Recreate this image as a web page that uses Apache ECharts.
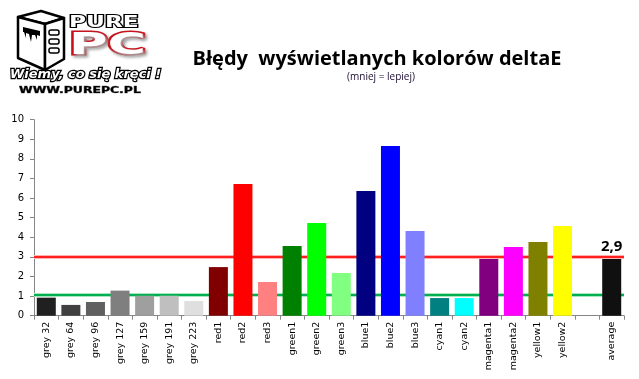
<!DOCTYPE html>
<html><head><meta charset="utf-8">
<script src="https://cdn.jsdelivr.net/npm/echarts@6/dist/echarts.min.js"></script>
<style>html,body{margin:0;padding:0;background:#fff}#c{width:639px;height:379px}</style>
</head><body><div id="c"></div>
<script>
const categories = ['grey 32','grey 64','grey 96','grey 127','grey 159','grey 191','grey 223','red1','red2','red3','green1','green2','green3','blue1','blue2','blue3','cyan1','cyan2','magenta1','magenta2','yellow1','yellow2','','average'];
const values = [0.92,0.55,0.70,1.28,1.02,1.02,0.75,2.48,6.72,1.72,3.56,4.73,2.18,6.36,8.66,4.32,0.90,0.90,2.89,3.50,3.76,4.58,null,2.89];
const barColors = ['#202020','#404040','#606060','#7f7f7f','#9f9f9f','#bfbfbf','#dfdfdf','#800000','#ff0000','#ff8080','#008000','#00ff00','#80ff80','#000080','#0000ff','#8080ff','#008080','#00ffff','#800080','#ff00ff','#808000','#ffff00','#ffffff','#101010'];
const yTicks = [0,1,2,3,4,5,6,7,8,9,10];
const upperLimit = 3;
const lowerLimit = 1.05;
const averageLabel = '2,9';

const chart = echarts.init(document.getElementById('c'), null, {renderer:'canvas'});
const F = 'DejaVu Sans';
const data = values.map((v,i)=>{
  const d = {value:v, itemStyle:{color:barColors[i]}};
  if (categories[i]==='average') d.label = {show:true, position:'top', distance:5, formatter:averageLabel, fontSize:15, fontWeight:'bold', color:'#000', fontFamily:'Open Sans'};
  return d;
});
const limitLine = (v, halo, core) => [
  {type:'line', xAxisIndex:1, data:[[0,v],[1,v]], symbol:'none', silent:true, z:1, zlevel:0, lineStyle:{color:halo, width:4}},
  {type:'line', xAxisIndex:1, data:[[0,v],[1,v]], symbol:'none', silent:true, z:2, zlevel:0, lineStyle:{color:core, width:2}}
];
chart.setOption({
  animation:false,
  backgroundColor:'#fff',
  grid:{left:34, right:15, top:119.7, bottom:63.3},
  xAxis:[{type:'category', data:categories,
    axisLine:{lineStyle:{color:'#868686', width:1}},
    axisTick:{show:true, length:4, lineStyle:{color:'#868686'}},
    axisLabel:{rotate:90, interval:0, fontFamily:F, fontSize:9.5, color:'#000', margin:6}},
    {type:'value', min:0, max:1, show:false}],
  yAxis:{type:'value', min:yTicks[0], max:yTicks[yTicks.length-1], interval:1,
    splitLine:{show:false},
    axisLine:{show:true, lineStyle:{color:'#868686'}},
    axisTick:{show:true, length:4, lineStyle:{color:'#868686'}},
    axisLabel:{fontFamily:F, fontSize:10, color:'#000', margin:10}},
  series:[
    ...limitLine(upperLimit, '#ffb0b0', '#ff2020'),
    ...limitLine(lowerLimit, '#a8e6c0', '#00b050'),
    {type:'bar', xAxisIndex:0, data:data, barWidth:19, z:10, zlevel:1}
  ],
  graphic:[
    {type:'text', x:377, y:49, style:{text:'Błędy  wyświetlanych kolorów deltaE', fontFamily:'Open Sans', fontWeight:'bold', fontSize:20, fill:'#000', textAlign:'center'}},
    {type:'text', x:381, y:72, style:{text:'(mniej = lepiej)', fontFamily:'Open Sans', fontSize:10, fill:'#1a0a30', textAlign:'center'}},
    {type:'polygon', shape:{points:[[18,17],[41,11],[64,18],[45,24]]}, style:{fill:'#fff', stroke:'#000', lineWidth:2.5, lineJoin:'round'}},
    {type:'polygon', shape:{points:[[18,17],[45,24],[45,70],[18,58]]}, style:{fill:'#fff', stroke:'#000', lineWidth:2.5, lineJoin:'round'}},
    {type:'polygon', shape:{points:[[45,24],[64,18],[64,59],[45,70]]}, style:{fill:'#fff', stroke:'#000', lineWidth:2.5, lineJoin:'round'}},
    {type:'polygon', shape:{points:[[23,27],[40,31],[40,36],[37,35],[37,40],[35,35],[32,35],[31,42],[29,34],[26,33],[26,38],[24,32],[23,32]]}, style:{fill:'#000'}},
    {type:'rect', shape:{x:49,y:30,width:10,height:5,r:2}, style:{fill:'#fff', stroke:'#000', lineWidth:1.5}},
    {type:'rect', shape:{x:49,y:39,width:10,height:5,r:2}, style:{fill:'#fff', stroke:'#000', lineWidth:1.5}},
    {type:'rect', shape:{x:49,y:48,width:10,height:5,r:2}, style:{fill:'#fff', stroke:'#000', lineWidth:1.5}},
    {type:'text', x:69, y:16, scaleX:1.55, style:{text:'PURE', fontFamily:'DejaVu Sans', fontWeight:'bold', fontSize:15, fill:'#fff', stroke:'#000', lineWidth:2}},
    {type:'text', x:69, y:31, scaleX:1.75, style:{text:'PC', fontFamily:'DejaVu Sans', fontWeight:'bold', fontSize:30, fill:'#fff', stroke:'#c8101a', lineWidth:3, textShadowColor:'#aaa', textShadowBlur:3, textShadowOffsetX:2, textShadowOffsetY:2}},
    {type:'text', x:10, y:68, style:{text:'Wiemy, co się kręci !', fontFamily:'DejaVu Sans', fontWeight:'bold', fontStyle:'italic', fontSize:13, fill:'#fff', stroke:'#000', lineWidth:2.5}},
    {type:'text', x:19, y:87, scaleX:1.55, style:{text:'WWW.PUREPC.PL', fontFamily:'DejaVu Sans', fontWeight:'bold', fontSize:8, fill:'#000', stroke:'#666', lineWidth:0.5}}
  ]
});
</script></body></html>
